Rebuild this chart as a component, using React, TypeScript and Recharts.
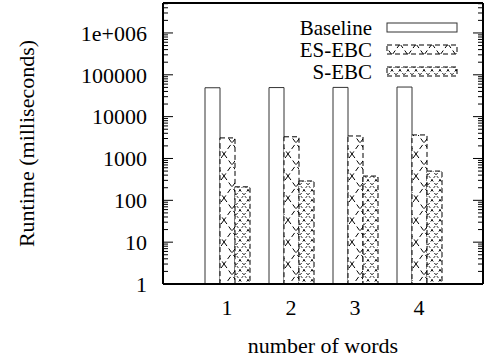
import { BarChart, Bar, XAxis, YAxis } from "recharts";

const WORDS = ["1", "2", "3", "4"];
const BASELINE = [49000, 49500, 50000, 51000];
const ES_EBC = [3100, 3300, 3450, 3650];
const S_EBC = [210, 290, 380, 500];

const Y_DOMAIN = [1, 5.2e6];
const MAJOR_TICKS = [1, 10, 100, 1000, 10000, 100000, 1000000];
const MINOR_STEPS = [2, 3, 4, 5, 6, 7, 8, 9];

const SERIES = [
  { key: "baseline", name: "Baseline", fill: "#ffffff", stroke: "#333", dash: undefined },
  { key: "esEbc", name: "ES-EBC", fill: "url(#esHatch)", stroke: "#000", dash: "5 3" },
  { key: "sEbc", name: "S-EBC", fill: "url(#sHatch)", stroke: "#000", dash: "5 3" },
];

const data = WORDS.map((w, i) => ({
  word: w,
  baseline: BASELINE[i],
  esEbc: ES_EBC[i],
  sEbc: S_EBC[i],
}));

const minorTicks = MAJOR_TICKS.flatMap((d) => MINOR_STEPS.map((m) => d * m)).filter(
  (v) => v < Y_DOMAIN[1]
);

const FONT = "Liberation Serif";
const FS = 22;
const textStyle = { fontFamily: FONT };

const fmtY = (v: number) => (v === 1000000 ? "1e+006" : String(v));

function YLabel({ viewBox }: any) {
  const cx = 26;
  const cy = viewBox.y + viewBox.height / 2;
  return (
    <text
      x={cx}
      y={cy}
      transform={`rotate(-90, ${cx}, ${cy})`}
      textAnchor="middle"
      dominantBaseline="central"
      style={textStyle}
      fontSize={FS}
      fill="#000"
    >
      Runtime (milliseconds)
    </text>
  );
}

function XLabel({ viewBox }: any) {
  return (
    <text
      x={viewBox.x + viewBox.width / 2}
      y={viewBox.y + 69}
      textAnchor="middle"
      style={textStyle}
      fontSize={FS}
      fill="#000"
    >
      number of words
    </text>
  );
}

function Patterns() {
  return (
    <defs>
      <pattern id="esHatch" patternUnits="userSpaceOnUse" width={16} height={22}>
        <rect width={16} height={22} fill="#fff" />
        <line x1={0} y1={0} x2={16} y2={22} stroke="#000" strokeWidth={1} strokeDasharray="5 3" />
        <line x1={16} y1={0} x2={0} y2={22} stroke="#000" strokeWidth={1} strokeDasharray="5 3" />
      </pattern>
      <pattern id="sHatch" patternUnits="userSpaceOnUse" width={8} height={10}>
        <rect width={8} height={10} fill="#fff" />
        <line x1={0} y1={0} x2={8} y2={10} stroke="#000" strokeWidth={1} strokeDasharray="2 2" />
        <line x1={8} y1={0} x2={0} y2={10} stroke="#000" strokeWidth={1} strokeDasharray="2 2" />
      </pattern>
    </defs>
  );
}

function LegendOverlay() {
  const rowY = [28, 50, 72];
  return (
    <svg
      width={486}
      height={100}
      style={{ position: "absolute", left: 0, top: 0, pointerEvents: "none" }}
    >
      {SERIES.map((s, i) => (
        <g key={s.key}>
          <text
            x={372}
            y={rowY[i]}
            textAnchor="end"
            dominantBaseline="central"
            style={textStyle}
            fontSize={21}
            fill="#000"
          >
            {s.name}
          </text>
          <rect
            x={387}
            y={rowY[i] - 5}
            width={70}
            height={9}
            fill={s.fill}
            stroke={s.stroke}
            strokeWidth={1}
            strokeDasharray={s.dash}
          />
        </g>
      ))}
    </svg>
  );
}

export default function App() {
  const tickStyle = { fontSize: FS, fill: "#000", style: textStyle };
  return (
    <div
      style={{
        position: "absolute",
        left: 0,
        top: 0,
        width: 486,
        height: 360,
        background: "#fff",
        fontFamily: FONT,
      }}
    >
      <BarChart
        width={486}
        height={360}
        data={data}
        margin={{ top: 2, right: 2, bottom: 0, left: 0 }}
        barSize={15}
        barGap={0}
        style={textStyle}
      >
        <Patterns />
        <XAxis
          dataKey="word"
          xAxisId="bottom"
          height={76}
          padding={{ left: 32, right: 32 }}
          axisLine={{ stroke: "#000", strokeWidth: 2 }}
          tickLine={false}
          tickSize={0}
          tickMargin={15}
          tick={tickStyle}
          label={<XLabel />}
        />
        <XAxis
          dataKey="word"
          xAxisId="top"
          orientation="top"
          height={1}
          axisLine={{ stroke: "#000", strokeWidth: 2 }}
          tickLine={false}
          tickFormatter={() => ""}
        />
        <YAxis
          yAxisId="main"
          scale="log"
          type="number"
          domain={Y_DOMAIN}
          allowDataOverflow
          ticks={MAJOR_TICKS}
          interval={0}
          width={163}
          axisLine={{ stroke: "#000", strokeWidth: 2 }}
          tickLine={{ stroke: "#000", strokeWidth: 1 }}
          tickSize={-10}
          tickMargin={26}
          tick={tickStyle}
          tickFormatter={fmtY}
          label={<YLabel />}
        />
        <YAxis
          yAxisId="minorL"
          scale="log"
          type="number"
          domain={Y_DOMAIN}
          allowDataOverflow
          ticks={minorTicks}
          interval={0}
          mirror
          axisLine={false}
          tickLine={{ stroke: "#000", strokeWidth: 1 }}
          tickSize={5}
          tickFormatter={() => ""}
        />
        <YAxis
          yAxisId="right"
          orientation="right"
          scale="log"
          type="number"
          domain={Y_DOMAIN}
          allowDataOverflow
          ticks={MAJOR_TICKS}
          interval={0}
          width={1}
          axisLine={{ stroke: "#000", strokeWidth: 2 }}
          tickLine={{ stroke: "#000", strokeWidth: 1 }}
          tickSize={-10}
          tickFormatter={() => ""}
        />
        <YAxis
          yAxisId="minorR"
          orientation="right"
          scale="log"
          type="number"
          domain={Y_DOMAIN}
          allowDataOverflow
          ticks={minorTicks}
          interval={0}
          mirror
          axisLine={false}
          tickLine={{ stroke: "#000", strokeWidth: 1 }}
          tickSize={5}
          tickFormatter={() => ""}
        />
        {SERIES.map((s) => (
          <Bar
            key={s.key}
            dataKey={s.key}
            name={s.name}
            xAxisId="bottom"
            yAxisId="main"
            fill={s.fill}
            stroke={s.stroke}
            strokeWidth={1}
            strokeDasharray={s.dash}
            isAnimationActive={false}
          />
        ))}
      </BarChart>
      <LegendOverlay />
    </div>
  );
}
